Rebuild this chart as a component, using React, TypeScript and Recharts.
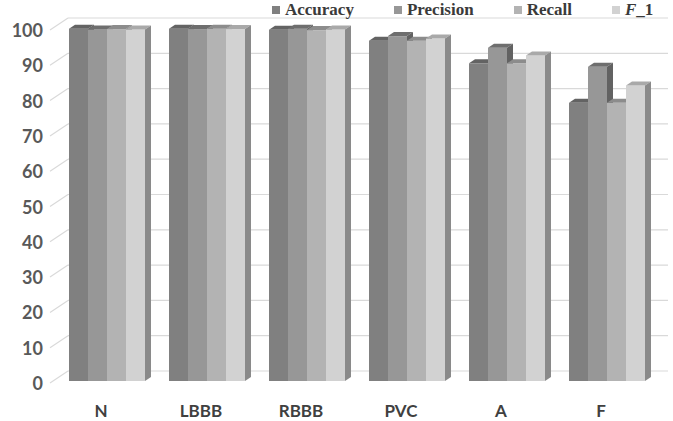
import React from 'react';
import { BarChart, Bar, XAxis, YAxis, CartesianGrid } from 'recharts';

const categories = ['N', 'LBBB', 'RBBB', 'PVC', 'A', 'F'];
const accuracy = [99.8, 99.8, 99.5, 96.4, 90.0, 78.8];
const precision = [99.6, 99.7, 99.8, 97.7, 94.4, 89.0];
const recall = [99.7, 99.8, 99.4, 96.4, 90.0, 78.8];
const f1 = [99.6, 99.7, 99.6, 97.0, 92.2, 83.7];
const yTicks = [0, 10, 20, 30, 40, 50, 60, 70, 80, 90, 100];

const data = categories.map((cat, i) => ({
  cat,
  accuracy: accuracy[i],
  precision: precision[i],
  recall: recall[i],
  f1: f1[i],
}));

const DX = 6;
const DY = 4;

const series = [
  { key: 'accuracy', name: 'Accuracy', front: '#808080', top: '#636363', side: '#5e5e5e' },
  { key: 'precision', name: 'Precision', front: '#979797', top: '#6e6e6e', side: '#626262' },
  { key: 'recall', name: 'Recall', front: '#b3b3b3', top: '#8c8c8c', side: '#7e7e7e' },
  { key: 'f1', name: 'F_1', front: '#d2d2d2', top: '#a9a9a9', side: '#8a8a8a' },
];

// front face + top + right side, to fake the 3D column look
const box3d = (front: string, top: string, side: string) => (p: any) => {
  const { x, y, width: w, height: h } = p;
  if (w == null || h == null) return <g />;
  return (
    <g>
      <rect x={x} y={y} width={w} height={h} fill={front} />
      <path
        d={`M${x},${y} L${x + DX},${y - DY} L${x + w + DX},${y - DY} L${x + w},${y} Z`}
        fill={top}
      />
      <path
        d={`M${x + w},${y} L${x + w + DX},${y - DY} L${x + w + DX},${y + h - DY} L${x + w},${y + h} Z`}
        fill={side}
      />
    </g>
  );
};

const gridLine = (p: any) => {
  const { x1, x2, y1, index } = p;
  const back = y1 - 10;
  return (
    <g key={`gl-${index}`}>
      <line x1={x1 - 6} y1={y1 + 2} x2={x1 + 12} y2={back} stroke="#d9d9d9" strokeWidth={1.2} />
      <line x1={x1 + 12} y1={back} x2={x2 + 12} y2={back} stroke="#d9d9d9" strokeWidth={1.2} />
    </g>
  );
};

const YTick = (p: any) => (
  <text
    x={43}
    y={p.y + 9}
    textAnchor="end"
    fill="#595959"
    fontFamily="Lato, sans-serif"
    fontWeight={700}
    fontSize={18}
  >
    {p.payload.value}
  </text>
);

const XTick = (p: any) => (
  <text
    x={p.x - 5}
    y={417}
    textAnchor="middle"
    fill="#404040"
    fontFamily="Lato, sans-serif"
    fontWeight={700}
    fontSize={17}
  >
    {p.payload.value}
  </text>
);

const LegendLabel = ({ name }: { name: string }) =>
  name === 'F_1' ? (
    <span>
      <i>F</i>_1
    </span>
  ) : (
    <span>{name}</span>
  );

export default function App() {
  return (
    <div style={{ position: 'absolute', left: 0, top: 0, width: 673, height: 421, background: '#fff' }}>
      <BarChart
        width={673}
        height={421}
        data={data}
        margin={{ top: 28, right: 17, bottom: 0, left: 0 }}
        barCategoryGap={13}
        barGap={0}
      >
        <CartesianGrid vertical={false} horizontal={gridLine} />
        <XAxis dataKey="cat" axisLine={false} tickLine={false} height={40} tick={<XTick />} interval={0} />
        <YAxis
          domain={[0, 100]}
          ticks={yTicks}
          axisLine={false}
          tickLine={false}
          width={56}
          tick={<YTick />}
          interval={0}
        />
        {series.map((s) => (
          <Bar
            key={s.key}
            dataKey={s.key}
            name={s.name}
            fill={s.front}
            isAnimationActive={false}
            shape={box3d(s.front, s.top, s.side)}
          />
        ))}
      </BarChart>
      <div
        style={{
          position: 'absolute',
          left: 272,
          top: 0,
          display: 'flex',
          gap: 40,
          fontFamily: '"Liberation Serif", serif',
          fontWeight: 700,
          fontSize: 17,
          lineHeight: '20px',
          color: '#3a3a3a',
        }}
      >
        {series.map((s) => (
          <div key={s.key} style={{ display: 'flex', alignItems: 'center' }}>
            <span style={{ width: 8, height: 8, background: s.front, marginRight: 5, display: 'inline-block' }} />
            <LegendLabel name={s.name} />
          </div>
        ))}
      </div>
    </div>
  );
}
